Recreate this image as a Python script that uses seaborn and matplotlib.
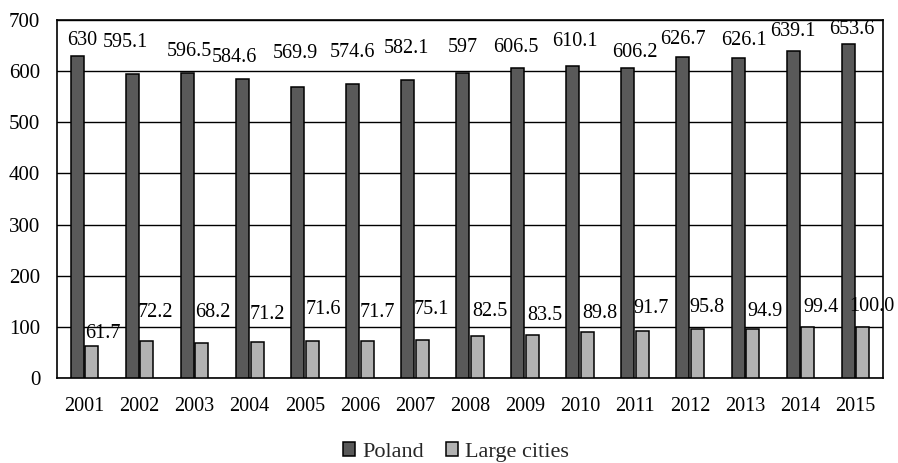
import numpy as np
import pandas as pd
import matplotlib
matplotlib.use("Agg")
import matplotlib.pyplot as plt
import seaborn as sns
from matplotlib.patches import Patch

# ---- data ----
years = ["2001", "2002", "2003", "2004", "2005", "2006", "2007", "2008",
         "2009", "2010", "2011", "2012", "2013", "2014", "2015"]
poland = [630, 595.1, 596.5, 584.6, 569.9, 574.6, 582.1, 597,
          606.5, 610.1, 606.2, 626.7, 626.1, 639.1, 653.6]
large_cities = [61.7, 72.2, 68.2, 71.2, 71.6, 71.7, 75.1, 82.5,
                83.5, 89.8, 91.7, 95.8, 94.9, 99.4, 100.0]
poland_labels = ["630", "595.1", "596.5", "584.6", "569.9", "574.6", "582.1", "597",
                 "606.5", "610.1", "606.2", "626.7", "626.1", "639.1", "653.6"]
cities_labels = ["61.7", "72.2", "68.2", "71.2", "71.6", "71.7", "75.1", "82.5",
                 "83.5", "89.8", "91.7", "95.8", "94.9", "99.4", "100.0"]
series_names = ["Poland", "Large cities"]

# ---- label placement offsets (pixels, relative to bar top centre) ----
poland_dx = [4.5, -6.6, 2, -7.7, -2, 0, -1.5, 0, -2, 2, 7, 0, 6, 0, 4]
poland_dy = [15, 31, 21, 22, 33, 32, 32, 25, 20, 24, 15, 18, 17, 20, 14]
cities_dx = [11.5, 8.5, 11, 10.7, 11, 10.5, 9.5, 12.5, 12, 12, 9, 9, 12, 13, 9.5]
cities_dy = [13, 29, 31, 27, 32, 29, 30, 24, 20, 19, 23, 22, 17.5, 20, 20]

colors = ["#595959", "#b2b2b2"]

df = pd.DataFrame({
    "year": years * 2,
    "value": poland + large_cities,
    "series": [series_names[0]] * len(years) + [series_names[1]] * len(years),
})

sns.set_style("white")
plt.rcParams["font.family"] = ["Liberation Serif", "DejaVu Serif"]

fig = plt.figure(figsize=(8.98, 4.63), dpi=100)
ax = fig.add_axes([57 / 898, 1 - 378 / 463, 826 / 898, 358 / 463])

sns.barplot(data=df, x="year", y="value", hue="series", order=years,
            hue_order=series_names, palette=colors, width=0.53, gap=0.11,
            edgecolor="black", linewidth=1.1, saturation=1, ax=ax, legend=False,
            zorder=3)

ax.set_ylim(0, 700)
ax.set_xlim(-0.5, len(years) - 0.5)
ax.set_yticks(np.arange(0, 701, 100))
ax.yaxis.grid(True, color="black", linewidth=1.0, zorder=0)
ax.set_axisbelow(True)
ax.set_xlabel("")
ax.set_ylabel("")

for s in ax.spines.values():
    s.set_visible(True)
    s.set_color("black")
    s.set_linewidth(1.2)

ax.tick_params(axis="y", length=0, pad=12, labelsize=15, colors="black")
ax.tick_params(axis="x", which="major", length=0, pad=14, labelsize=14.5, colors="black")
ax.set_xticks(np.arange(-0.5, len(years), 1.0), minor=True)
ax.tick_params(axis="x", which="minor", length=6, width=1.0, direction="out", color="black")

label_sets = [(poland_labels, poland_dx, poland_dy), (cities_labels, cities_dx, cities_dy)]
for cont, (labs, dxs, dys) in zip(ax.containers, label_sets):
    for bar, lab, dx, dy in zip(cont, labs, dxs, dys):
        x = bar.get_x() + bar.get_width() / 2
        y = bar.get_height()
        ax.annotate(lab, (x, y), xytext=(dx, dy), textcoords="offset pixels",
                    ha="center", va="center", fontsize=14.5, color="black",
                    annotation_clip=False)

handles = [Patch(facecolor=c, edgecolor="black", linewidth=1.1) for c in colors]
fig.legend(handles, series_names, loc="center", bbox_to_anchor=(456 / 898, 11 / 463),
           ncol=2, frameon=False, fontsize=16, handlelength=0.55, handleheight=0.55,
           handletextpad=0.3, columnspacing=1.0)

fig.savefig("out.png", dpi=100)
